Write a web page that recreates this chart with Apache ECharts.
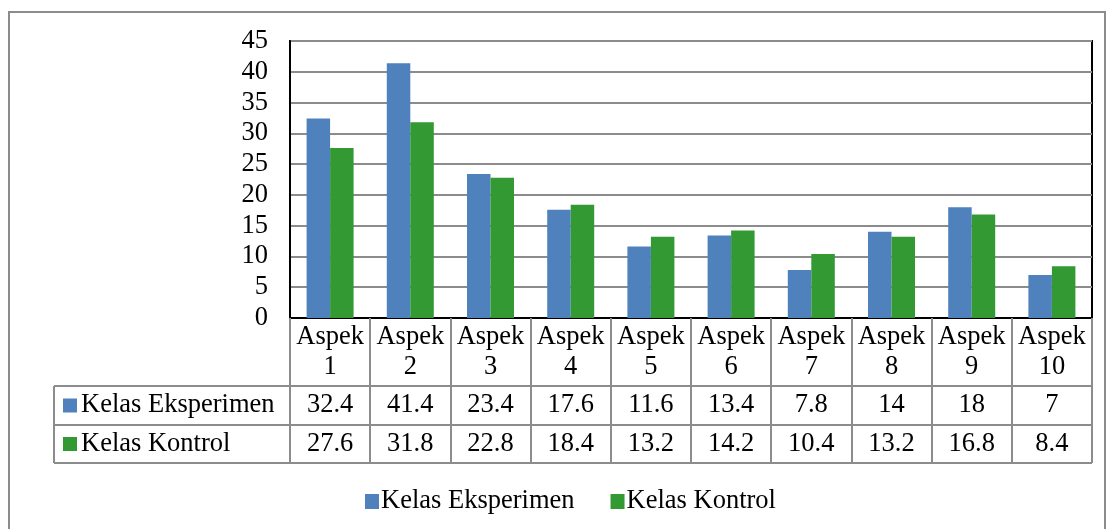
<!DOCTYPE html>
<html>
<head>
<meta charset="utf-8">
<script src="https://cdn.jsdelivr.net/npm/echarts@6/dist/echarts.min.js"></script>
<style>html,body{margin:0;padding:0;background:#fff}#c{width:1106px;height:529px}</style>
</head>
<body>
<div id="c"></div>
<script>
const categories = ['Aspek 1','Aspek 2','Aspek 3','Aspek 4','Aspek 5','Aspek 6','Aspek 7','Aspek 8','Aspek 9','Aspek 10'];
const seriesNames = ['Kelas Eksperimen','Kelas Kontrol'];
const eksperimen = [32.4, 41.4, 23.4, 17.6, 11.6, 13.4, 7.8, 14, 18, 7];
const kontrol = [27.6, 31.8, 22.8, 18.4, 13.2, 14.2, 10.4, 13.2, 16.8, 8.4];
const colors = ['#4F81BD', '#339933'];

const FONT = '"Liberation Serif", "Times New Roman", serif';
const FS = 26.5;
const GRID = {left: 290, top: 41, width: 802, height: 277};
const ROWS = [318, 386, 425, 463];
const TABLE_LEFT = 54;
const LINE = '#8c8c8c';

const chart = echarts.init(document.getElementById('c'), null, {renderer: 'canvas'});
chart.setOption({
  animation: false,
  backgroundColor: '#fff',
  color: colors,
  grid: Object.assign({show: true, borderColor: '#000', borderWidth: 2, backgroundColor: 'transparent'}, GRID),
  legend: {
    data: seriesNames, left: 360, top: 483, icon: 'rect', itemWidth: 14, itemHeight: 15, itemGap: 36,
    textStyle: {fontFamily: FONT, fontSize: FS, color: '#000', padding: [0, 0, 0, -3]}
  },
  xAxis: {
    type: 'category', data: categories,
    axisLine: {lineStyle: {color: '#000', width: 2}},
    axisTick: {show: true, interval: 0, length: ROWS[3] - ROWS[0], lineStyle: {color: LINE, width: 2}},
    axisLabel: {interval: 0, margin: 4, fontFamily: FONT, fontSize: FS, color: '#000', lineHeight: 30,
      formatter: v => v.replace(' ', '\n')}
  },
  yAxis: {
    type: 'value', min: 0, max: 45, interval: 5,
    axisLine: {show: true, lineStyle: {color: '#000', width: 2}},
    axisTick: {show: false},
    axisLabel: {margin: 22, fontFamily: FONT, fontSize: FS, color: '#000'},
    splitLine: {lineStyle: {color: LINE, width: 2}}
  },
  series: [
    {name: seriesNames[0], type: 'bar', data: eksperimen, barWidth: 23.5, barGap: '0%'},
    {name: seriesNames[1], type: 'bar', data: kontrol, barWidth: 23.5, barGap: '0%'}
  ]
});

// Build data table below the axis
const right = GRID.left + GRID.width;
const g = [];
g.push({type: 'rect', shape: {x: 9, y: 12, width: 1096, height: 530}, style: {fill: 'none', stroke: LINE, lineWidth: 2}, z: 0});
for (let r = 1; r < ROWS.length; r++) {
  g.push({type: 'line', shape: {x1: TABLE_LEFT, y1: ROWS[r], x2: right, y2: ROWS[r]}, style: {stroke: LINE, lineWidth: 2}});
}
g.push({type: 'line', shape: {x1: TABLE_LEFT, y1: ROWS[1], x2: TABLE_LEFT, y2: ROWS[3]}, style: {stroke: LINE, lineWidth: 2}});
const tableData = [eksperimen, kontrol];
tableData.forEach((arr, r) => {
  const cy = (ROWS[r + 1] + ROWS[r + 2]) / 2;
  g.push({type: 'rect', shape: {x: 63, y: cy - 7, width: 14, height: 14}, style: {fill: colors[r]}});
  g.push({type: 'text', x: 81, y: cy, style: {text: seriesNames[r], font: FS + 'px ' + FONT, fill: '#000', textAlign: 'left', textVerticalAlign: 'middle'}});
  arr.forEach((v, i) => {
    const cx = chart.convertToPixel({xAxisIndex: 0}, i);
    g.push({type: 'text', x: cx, y: cy, style: {text: String(v), font: FS + 'px ' + FONT, fill: '#000', textAlign: 'center', textVerticalAlign: 'middle'}});
  });
});
chart.setOption({graphic: g});
</script>
</body>
</html>
